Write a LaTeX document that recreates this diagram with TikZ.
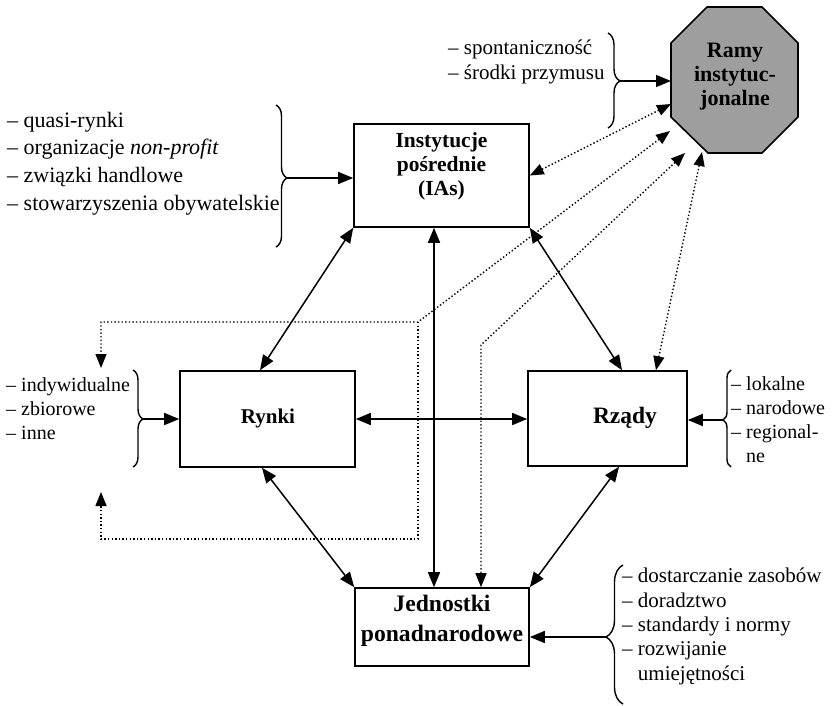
\documentclass[tikz,border=0pt]{standalone}
\usepackage{fontspec}
\setmainfont{Liberation Serif}
\usetikzlibrary{arrows.meta,decorations.pathreplacing}
\begin{document}
\begin{tikzpicture}[x=1pt,y=-1pt,
  box/.style={draw,line width=1.6pt,inner sep=0pt},
  lbl/.style={align=center,inner sep=0pt},
  lst/.style={align=left,inner sep=0pt,anchor=base west},
  con/.style={line width=1.5pt},
  both/.style={con,{Triangle[length=15pt,width=12pt]}-{Triangle[length=15pt,width=12pt]}},
  one/.style={con,-{Triangle[length=15pt,width=12pt]}},
  dots/.style={line width=1.4pt,dash pattern=on 1.4pt off 2.2pt},
  dboth/.style={dots,{Triangle[length=14pt,width=11pt]}-{Triangle[length=14pt,width=11pt]}},
  done/.style={dots,-{Triangle[length=14pt,width=11pt]}},
  brc/.style={line width=1.4pt,decorate},
]
\useasboundingbox (0,0) rectangle (834,705);

% boxes
\node[box,minimum width=175pt,minimum height=103pt] (ia) at (441.5,175.5) {};
\node[box,minimum width=175pt,minimum height=96pt] (rynki) at (267.5,419) {};
\node[box,minimum width=159pt,minimum height=95pt] (rzady) at (607.5,418.5) {};
\node[box,minimum width=174pt,minimum height=78pt] (jed) at (442,627) {};

% octagon
\draw[line width=1.6pt,fill=black!38] (707,7) -- (762,7) -- (798,43) -- (798,117) -- (762,153) -- (708,153) -- (671,117) -- (671,43) -- cycle;

% box texts
\node[lbl,font={\fontsize{21.5}{24}\selectfont\bfseries}] (iat) at (441.5,166) {Instytucje\\pośrednie\\(IAs)};
\node[lbl,font={\fontsize{21}{24}\selectfont\bfseries}] (rynkit) at (268,418) {Rynki};
\node[lbl,font={\fontsize{23.5}{28}\selectfont\bfseries}] (rzadyt) at (625,418) {Rządy};
\node[lbl,font={\fontsize{23.6}{30}\selectfont\bfseries}] (jedt) at (442,621) {Jednostki\\ponadnarodowe};
\node[lbl,font={\fontsize{22}{24}\selectfont\bfseries}] (ramy) at (735,77) {Ramy\\instytuc-\\jonalne};

% lists (base = baseline of last line)
\node[lst,font={\fontsize{22}{27.6}\selectfont}] (l1) at (7,210) {– quasi-rynki\\– organizacje \textit{non-profit}\\– związki handlowe\\– stowarzyszenia obywatelskie};
\node[lst,font={\fontsize{21}{25}\selectfont}] (l2) at (448,79) {– spontaniczność\\– środki przymusu};
\node[lst,font={\fontsize{20}{24}\selectfont}] (l3) at (6,439) {– indywidualne\\– zbiorowe\\– inne};
\node[lst,font={\fontsize{20}{23.7}\selectfont}] (l4) at (731,462) {– lokalne\\– narodowe\\– regional-\\\hphantom{– }ne};
\node[lst,font={\fontsize{21}{24.3}\selectfont}] (l5) at (622,680) {– dostarczanie zasobów\\– doradztwo\\– standardy i normy\\– rozwijanie\\\hphantom{– }umiejętności};

% braces
\draw[brc,decoration={brace,amplitude=11pt,aspect=0.514}] (276,105) -- (276,247);
\draw[brc,decoration={brace,amplitude=12pt,aspect=0.505}] (608,33) -- (608,128);
\draw[brc,decoration={brace,amplitude=10pt,aspect=0.505}] (133,370) -- (133,467);
\draw[brc,decoration={brace,amplitude=8pt,aspect=0.485}] (731,467) -- (731,370);
\draw[brc,decoration={brace,amplitude=17pt,aspect=0.482}] (623,704) -- (623,565);

\coordinate (t1) at (287,178);
\coordinate (t2) at (620,81);
\coordinate (t3) at (143,419);
\coordinate (t4) at (723,420);
\coordinate (t5) at (606,637);
\coordinate (oleft) at (671,81);

\draw[one] (t1) -- (ia.west |- t1);
\draw[one] (t2) -- (oleft);
\draw[one] (t3) -- (rynki.west |- t3);
\draw[one] (t4) -- (rzady.east |- t4);
\draw[one] (t5) -- (jed.east |- t5);

% solid connectors
\coordinate (v1) at ([xshift=-8pt]jed.north);
\draw[both] (ia.south west) -- ([xshift=-7.5pt]rynki.north);
\draw[both] (v1 |- ia.south) -- (v1);
\draw[both] (ia.south east) -- ([xshift=14.5pt]rzady.north);
\draw[both] (rynki.east) -- (rynki.east -| rzady.west);
\draw[both] ([xshift=-5.5pt]rynki.south) -- (jed.north west);
\draw[both] ([xshift=11.5pt]rzady.south) -- (jed.north east);

% dotted connectors
\coordinate (oa) at (671,104);
\coordinate (ob) at (670,131);
\coordinate (oc) at (685,153);
\coordinate (od) at (702,152);
\coordinate (j1) at (418,322);
\coordinate (j2) at (481,345);
\coordinate (j3) at (418,539);
\coordinate (tl1) at (101,368);
\coordinate (tl2) at (101,492);

\draw[dboth] (ia.east) -- (oa);
\draw[dboth] (ob) -- (j1) -- (j1 -| tl1) -- (tl1);
\draw[done] (j1) -- (j3) -- (j3 -| tl2) -- (tl2);
\draw[dboth] (oc) -- (j2) -- (j2 |- jed.north);
\draw[dboth] (od) -- ([xshift=48.5pt]rzady.north);
\end{tikzpicture}
\end{document}
